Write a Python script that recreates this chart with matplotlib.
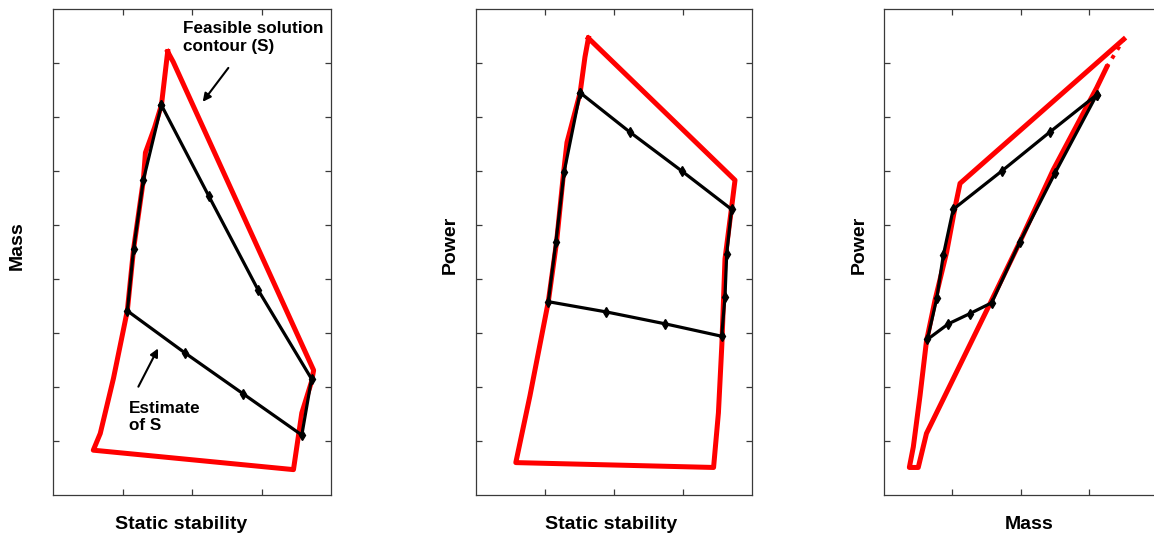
import matplotlib
matplotlib.use("Agg")
import matplotlib.pyplot as plt

plt.rcParams['font.family'] = ['Liberation Sans', 'DejaVu Sans']
plt.rcParams['font.weight'] = 'bold'

# feasible contour (red) and estimate (black) for each panel
red1_x = [1.65, 1.73, 3.75, 3.72, 3.58, 3.46, 0.58, 0.68, 0.87, 1.01, 1.07, 1.16, 1.30, 1.33, 1.46, 1.56, 1.65]
red1_y = [8.21, 8.02, 2.31, 2.10, 1.52, 0.47, 0.83, 1.14, 2.16, 3.04, 3.42, 4.56, 5.83, 6.34, 6.80, 7.22, 8.21]
est1_x = [1.56, 2.24, 2.95, 3.72, 3.58, 2.74, 1.90, 1.07, 1.16, 1.30, 1.56]
est1_y = [7.22, 5.54, 3.80, 2.15, 1.11, 1.87, 2.63, 3.41, 4.56, 5.83, 7.22]

red2_x = [1.63, 3.75, 3.70, 3.605, 3.56, 3.51, 3.44, 0.58, 0.785, 1.05, 1.17, 1.27, 1.32, 1.51, 1.58, 1.63]
red2_y = [8.46, 5.83, 5.32, 4.37, 2.79, 1.52, 0.51, 0.60, 1.84, 3.58, 4.69, 5.96, 6.53, 7.45, 8.11, 8.46]
est2_x = [1.51, 2.23, 2.98, 3.70, 3.63, 3.605, 3.557, 2.74, 1.89, 1.05, 1.16, 1.28, 1.51]
est2_y = [7.45, 6.72, 6.00, 5.29, 4.47, 3.67, 2.94, 3.17, 3.39, 3.58, 4.69, 5.99, 7.45]

red3_x = [3.50, 1.11, 1.036, 0.915, 0.745, 0.62, 0.526, 0.428, 0.37, 0.50, 0.62, 1.01, 1.55, 1.985, 2.47, 3.105, 3.25]
red3_y = [8.44, 5.77, 5.32, 4.50, 3.61, 2.85, 1.84, 0.89, 0.51, 0.51, 1.14, 2.15, 3.55, 4.69, 6.02, 7.54, 7.92]
est3_x = [3.105, 2.42, 1.72, 1.01, 0.866, 0.77, 0.633, 0.94, 1.255, 1.572, 1.985, 2.496, 3.105]
est3_y = [7.41, 6.72, 6.00, 5.29, 4.44, 3.64, 2.88, 3.17, 3.36, 3.56, 4.69, 5.96, 7.41]

xticks = [1, 2, 3]
yticks = [1, 2, 3, 4, 5, 6, 7, 8]

xlabels = ['Static stability', 'Static stability', 'Mass']
ylabels = ['Mass', 'Power', 'Power']

fig = plt.figure(figsize=(11.54, 5.4), dpi=100)
W, H = 1154.0, 540.0
lefts = [53, 475.7, 884]
widths = [278, 276.6, 280]
xmax = [4, 4, 4.088]   # third panel runs off the right edge of the picture
xlab_pos = [0.4615, 0.49, 0.518]
ylab_pos = [-0.128, -0.093, -0.089]

axes = []
for i in range(3):
    ax = fig.add_axes([lefts[i] / W, 45 / H, widths[i] / W, 486 / H])
    ax.set_xlim(0, xmax[i])
    ax.set_ylim(0, 9)
    ax.set_xticks(xticks)
    ax.set_yticks(yticks)
    ax.set_xticklabels([])
    ax.set_yticklabels([])
    ax.tick_params(direction='in', length=4, width=0.9, color='#3a3a3a',
                   top=True, right=True)
    for s in ax.spines.values():
        s.set_color('#3a3a3a')
        s.set_linewidth(0.9)
    ax.set_xlabel(xlabels[i], fontsize=14, fontweight='bold', ha='center', va='center')
    ax.set_ylabel(ylabels[i], fontsize=14, fontweight='bold', ha='center', va='center')
    ax.xaxis.set_label_coords(xlab_pos[i], -0.0617)
    ax.yaxis.set_label_coords(ylab_pos[i], 0.514)
    axes.append(ax)

ax1, ax2, ax3 = axes

ax1.plot(red1_x, red1_y, color='red', lw=3.6, solid_joinstyle='round', zorder=2)
ax1.plot(est1_x, est1_y, color='black', lw=2.3, marker='d', ms=5, zorder=3)

ax2.plot(red2_x, red2_y, color='red', lw=3.6, solid_joinstyle='round', zorder=2)
ax2.plot(est2_x, est2_y, color='black', lw=2.3, marker='d', ms=5, zorder=3)

ax3.plot(red3_x, red3_y, color='red', lw=3.6, solid_joinstyle='round', zorder=2)
# the last bit of the contour is only dotted
ax3.plot([red3_x[-1], red3_x[0]], [red3_y[-1], red3_y[0]], color='red', lw=2.8, ls=':', zorder=2)
ax3.plot(est3_x, est3_y, color='black', lw=2.3, marker='d', ms=5, zorder=3)

# annotations on first panel
ax1.text(1.87, 8.47, 'Feasible solution\ncontour (S)', fontsize=12.3, fontweight='bold',
         ha='left', va='center', linespacing=1.2)
ax1.annotate('', xy=(2.13, 7.24), xytext=(2.547, 7.95),
             arrowprops=dict(arrowstyle='-|>', color='black', lw=1.5, mutation_scale=12))
ax1.text(1.098, 1.44, 'Estimate\nof S', fontsize=12.3, fontweight='bold',
         ha='left', va='center', linespacing=1.2)
ax1.annotate('', xy=(1.53, 2.76), xytext=(1.21, 1.96),
             arrowprops=dict(arrowstyle='-|>', color='black', lw=1.5, mutation_scale=12))

fig.savefig('out.png', dpi=100)
